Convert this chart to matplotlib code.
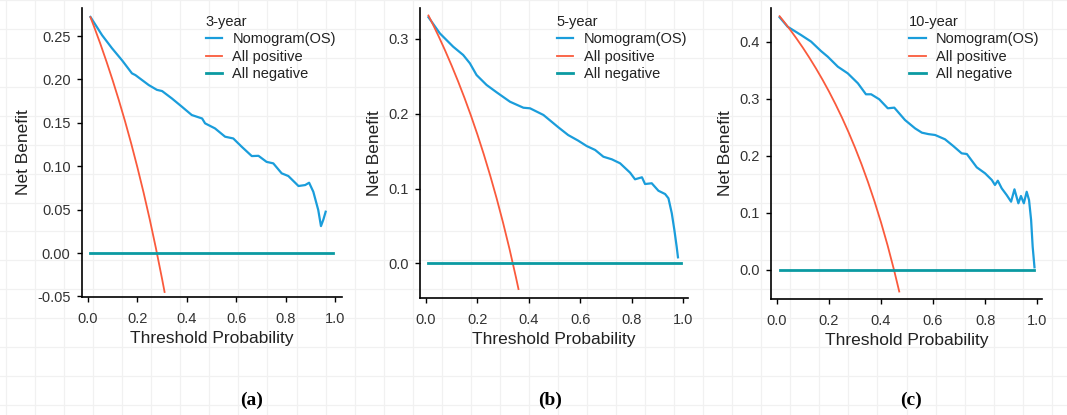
import matplotlib

matplotlib.use("Agg")
import numpy as np
from matplotlib import pyplot as plt

plt.rcParams["font.family"] = ["Liberation Sans", "DejaVu Sans"]

# values
thr_pos_a = [0.01, 0.025, 0.05, 0.075, 0.10, 0.125, 0.15, 0.175, 0.20, 0.225, 0.25, 0.275, 0.30, 0.31]
nb_pos_a = [0.2717, 0.2605, 0.2411, 0.2205, 0.1989, 0.1760, 0.1518, 0.1261, 0.0987, 0.0697, 0.0387, 0.0055, -0.0300, -0.0449]

thr_pos_b = [0.01, 0.025, 0.05, 0.075, 0.10, 0.125, 0.15, 0.175, 0.20, 0.225, 0.25, 0.275, 0.30, 0.325, 0.35, 0.36]
nb_pos_b = [0.3313, 0.3210, 0.3032, 0.2843, 0.2644, 0.2434, 0.2212, 0.1976, 0.1725, 0.1458, 0.1173, 0.0869, 0.0543, 0.0193, -0.0185, -0.0344]

thr_pos_c = [0.01, 0.025, 0.05, 0.075, 0.10, 0.125, 0.15, 0.175, 0.20, 0.225, 0.25, 0.275, 0.30, 0.325, 0.35, 0.375, 0.40, 0.425, 0.45, 0.47]
nb_pos_c = [0.4444, 0.4359, 0.4211, 0.4054, 0.3889, 0.3714, 0.3529, 0.3333, 0.3125, 0.2903, 0.2667, 0.2414, 0.2143, 0.1852, 0.1538, 0.1200, 0.0833, 0.0435, 0.0, -0.0377]

thr_nom_a = [0.01, 0.057, 0.097, 0.138, 0.178, 0.192, 0.246, 0.279, 0.30, 0.34, 0.38, 0.42, 0.462, 0.474, 0.514, 0.555,
             0.588, 0.622, 0.663, 0.69, 0.723, 0.75, 0.784, 0.811, 0.852, 0.879, 0.895, 0.912, 0.932, 0.943, 0.953, 0.962]
nb_nom_a = [0.272, 0.251, 0.236, 0.222, 0.207, 0.205, 0.1935, 0.188, 0.1866, 0.178, 0.1686, 0.159, 0.155, 0.1494, 0.1436, 0.134,
            0.132, 0.1225, 0.1117, 0.112, 0.105, 0.1033, 0.0918, 0.0887, 0.0772, 0.0783, 0.081, 0.0706, 0.0495, 0.031, 0.0388, 0.0476]

thr_nom_b = [0.01, 0.054, 0.106, 0.145, 0.171, 0.197, 0.236, 0.275, 0.327, 0.379, 0.405, 0.457, 0.515, 0.553, 0.592, 0.625,
             0.658, 0.69, 0.723, 0.755, 0.794, 0.813, 0.84, 0.852, 0.878, 0.904, 0.93, 0.943, 0.956, 0.966, 0.975, 0.98]
nb_nom_b = [0.329, 0.3075, 0.2896, 0.2785, 0.2674, 0.2517, 0.2384, 0.2286, 0.216, 0.208, 0.2072, 0.1983, 0.1818, 0.1715, 0.164, 0.1568,
            0.1515, 0.1425, 0.139, 0.1337, 0.1211, 0.1123, 0.115, 0.106, 0.107, 0.097, 0.0926, 0.0869, 0.0668, 0.0445, 0.022, 0.008]

thr_nom_c = [0.01, 0.041, 0.092, 0.131, 0.169, 0.195, 0.234, 0.272, 0.311, 0.342, 0.362, 0.393, 0.426, 0.451, 0.492, 0.531,
             0.557, 0.582, 0.608, 0.646, 0.678, 0.71, 0.73, 0.768, 0.80, 0.826, 0.838, 0.849, 0.864, 0.883, 0.90, 0.913,
             0.928, 0.938, 0.949, 0.96, 0.969, 0.977, 0.983, 0.99]
nb_nom_c = [0.4426, 0.426, 0.4116, 0.40, 0.3835, 0.3736, 0.356, 0.3444, 0.327, 0.3077, 0.3077, 0.299, 0.2832, 0.2843, 0.2627, 0.248,
            0.2405, 0.238, 0.2364, 0.2289, 0.217, 0.2043, 0.2031, 0.1798, 0.1693, 0.1576, 0.1489, 0.1564, 0.143, 0.1313, 0.1196, 0.1413,
            0.1168, 0.1296, 0.1168, 0.137, 0.1226, 0.0876, 0.0408, 0.0047]

thr_neg = [0.01, 0.99]
nb_neg = [0.0, 0.0]

legend_titles = ["3-year", "5-year", "10-year"]
series_labels = ["Nomogram(OS)", "All positive", "All negative"]
captions = ["a", "b", "c"]

C_NOM = "#1a9ddb"
C_POS = "#fa5a3c"
C_NEG = "#0b9aa2"

panels = [
    dict(nom=(thr_nom_a, nb_nom_a), pos=(thr_pos_a, nb_pos_a), rect=[0.0769, 0.2843, 0.2436, 0.6964],
         xlim=(-0.024, 1.028), ylim=(-0.0507, 0.2823), yticks=np.arange(-0.05, 0.26, 0.05), yfmt="{:.2f}", leg_x=0.475),
    dict(nom=(thr_nom_b, nb_nom_b), pos=(thr_pos_b, nb_pos_b), rect=[0.3936, 0.2819, 0.2512, 0.6988],
         xlim=(-0.023, 1.019), ylim=(-0.0464, 0.3413), yticks=np.arange(0.0, 0.31, 0.1), yfmt="{:.1f}", leg_x=0.51),
    dict(nom=(thr_nom_c, nb_nom_c), pos=(thr_pos_c, nb_pos_c), rect=[0.7226, 0.2795, 0.254, 0.7012],
         xlim=(-0.023, 1.019), ylim=(-0.0508, 0.4588), yticks=np.arange(0.0, 0.41, 0.1), yfmt="{:.1f}", leg_x=0.51),
]

fig = plt.figure(figsize=(10.67, 4.15), dpi=100)

# faint paper grid behind the whole figure
bg = fig.add_axes([0, 0, 1, 1], zorder=-5)
bg.set_xlim(0, 1067)
bg.set_ylim(415, 0)
bg.set_xticks(np.arange(6, 1067, 29.05))
bg.set_yticks(np.arange(-1, 415, 29))
bg.grid(color="#f1f1f1", lw=0.9)
bg.tick_params(length=0, labelbottom=False, labelleft=False)
for s in bg.spines.values():
    s.set_visible(False)

for i, p in enumerate(panels):
    ax = fig.add_axes(p["rect"])
    ax.set_facecolor("none")
    ax.plot(*p["nom"], color=C_NOM, lw=1.6, label=series_labels[0])
    ax.plot(*p["pos"], color=C_POS, lw=1.3, label=series_labels[1])
    ax.plot(thr_neg, nb_neg, color=C_NEG, lw=2.0, label=series_labels[2])

    ax.set_xlim(*p["xlim"])
    ax.set_ylim(*p["ylim"])
    ax.set_xticks(np.arange(0, 1.01, 0.2))
    ax.set_xticklabels(["{:.1f}".format(v) for v in np.arange(0, 1.01, 0.2)])
    ax.set_yticks(p["yticks"])
    ax.set_yticklabels([p["yfmt"].format(v + 0.0) for v in np.round(p["yticks"], 2)])

    for side in ["top", "right"]:
        ax.spines[side].set_visible(False)
    for side in ["left", "bottom"]:
        ax.spines[side].set_linewidth(1.2)
        ax.spines[side].set_color("black")
    ax.tick_params(direction="out", length=3.8, width=1.0, color="black",
                   labelsize=10.5, labelcolor="#333333", pad=4.5)
    ax.tick_params(axis="x", pad=7)

    ax.set_xlabel("Threshold Probability", fontsize=12.5, labelpad=3.5, color="#222222")
    ax.set_ylabel("Net Benefit", fontsize=12.5, labelpad=4, color="#222222")

    leg = ax.legend(title=legend_titles[i], loc="upper left", bbox_to_anchor=(p["leg_x"], 0.975),
                    frameon=False, fontsize=10.5, title_fontsize=10.5, borderpad=0, borderaxespad=0,
                    handlelength=1.15, handletextpad=0.7, labelspacing=0.22, alignment="left")
    leg.get_title().set_color("#222222")
    for t in leg.get_texts():
        t.set_color("#222222")

    fig.text(p["rect"][0] + [0.159, 0.122, 0.131][i], 1 - 400 / 415, "(" + captions[i] + ")",
             ha="center", va="center", family=["Liberation Serif", "DejaVu Serif"],
             fontweight="bold", fontsize=14)

fig.savefig("out.png", dpi=100)
plt.close(fig)
